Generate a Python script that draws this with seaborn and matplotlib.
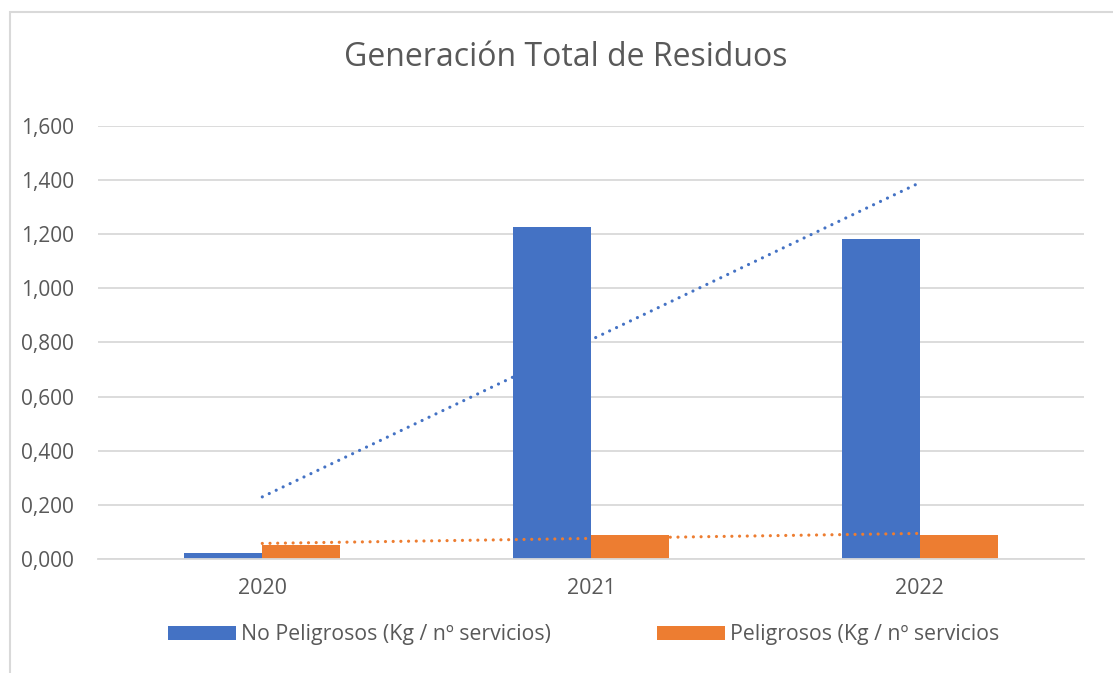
import matplotlib
matplotlib.use("Agg")
import matplotlib.pyplot as plt
import numpy as np
import pandas as pd
import seaborn as sns
from matplotlib.patches import Rectangle

years = ["2020", "2021", "2022"]
series = ["No Peligrosos (Kg / nº servicios)", "Peligrosos (Kg / nº servicios"]
no_peligrosos = [0.022, 1.225, 1.183]
peligrosos = [0.052, 0.087, 0.089]
colors = ["#4472C4", "#ED7D31"]
yticks = [0.0, 0.2, 0.4, 0.6, 0.8, 1.0, 1.2, 1.4, 1.6]

sns.set_theme(style="white")
plt.rcParams["font.family"] = ["Open Sans", "DejaVu Sans"]
text_color = "#595959"
grid_color = "#D9D9D9"

data = pd.DataFrame({
    "year": years * 2,
    "serie": [series[0]] * 3 + [series[1]] * 3,
    "value": no_peligrosos + peligrosos,
})

fig = plt.figure(figsize=(11.13, 6.73), dpi=100)
fig.patches.append(Rectangle((0.009, -0.1), 1.2, 1.082, transform=fig.transFigure,
                             fill=False, edgecolor=grid_color, linewidth=1.5))
ax = fig.add_axes([0.088, 0.1694, 0.886, 0.6434])

sns.barplot(data, x="year", y="value", hue="serie", hue_order=series,
            palette=colors, width=0.475, gap=0, saturation=1, ax=ax,
            linewidth=0)
# blue bars under orange trend, orange bars on top
for p in ax.containers[0]:
    p.set_zorder(1)
for p in ax.containers[1]:
    p.set_zorder(2)

# linear trend lines per series
pos = np.arange(len(years))
for vals, c, z in zip([no_peligrosos, peligrosos], colors, [0.9, 1.5]):
    k, b = np.polyfit(pos, vals, 1)
    ax.plot(pos, k * pos + b, color=c, linewidth=2.3,
            linestyle=(0, (0.01, 2.4)), dash_capstyle="round", zorder=z)

ax.set_xlim(-0.5, 2.5)
ax.set_ylim(0, 1.6)
ax.set_yticks(yticks)
ax.set_yticklabels([f"{v:.3f}".replace(".", ",") for v in yticks])
ax.set_xlabel("")
ax.set_ylabel("")
ax.grid(axis="y", color=grid_color, linewidth=1.3)
ax.set_axisbelow(True)
for s in ["top", "right", "left"]:
    ax.spines[s].set_visible(False)
ax.spines["bottom"].set_color(grid_color)
ax.spines["bottom"].set_linewidth(1.3)
ax.tick_params(axis="both", length=0, labelsize=15.5, colors=text_color)
ax.tick_params(axis="y", labelsize=15, pad=17)
ax.tick_params(axis="x", pad=14)

fig.text(0.508, 0.915, "Generación Total de Residuos", ha="center", va="center",
         fontsize=23, color=text_color)

sns.move_legend(ax, "center", bbox_to_anchor=(0.524, 0.0565),
                bbox_transform=fig.transFigure, ncol=2, frameon=False,
                title=None, fontsize=15.3, handlelength=3.2, handleheight=0.65,
                columnspacing=5.0, handletextpad=0.23, labelcolor=text_color)

fig.savefig("out.png", dpi=100)
